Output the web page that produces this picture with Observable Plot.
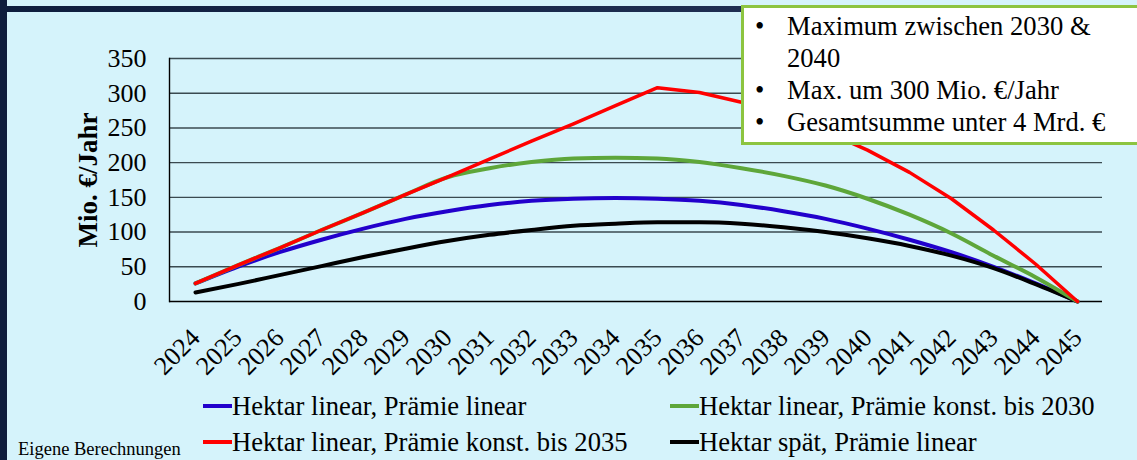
<!DOCTYPE html>
<html><head><meta charset="utf-8">
<script src="https://cdn.jsdelivr.net/npm/d3@7"></script>
<script src="https://cdn.jsdelivr.net/npm/@observablehq/plot@0.6"></script>
<style>
body{margin:0;background:#d5f3fb;}
#page{position:relative;width:1137px;height:460px;background:#d5f3fb;overflow:hidden;font-family:"Liberation Serif","Times New Roman",serif;color:#000;}
#navyL{position:absolute;left:0;top:0;width:7px;height:460px;background:#0e1d3d;}
#navyT{position:absolute;left:0;top:6px;width:1137px;height:6px;background:linear-gradient(90deg,#0e1d3d,#27375c);}
#chart{position:absolute;left:0;top:0;}
.leg{position:absolute;font-size:26.6px;line-height:26px;height:26px;white-space:nowrap;display:flex;align-items:center;}
.sw{display:inline-block;width:29px;height:4px;margin-right:0px;}
#note{position:absolute;left:18px;top:440px;font-size:18.5px;line-height:18.5px;white-space:nowrap;}
#box{position:absolute;left:741px;top:5px;width:430px;height:134px;background:#fff;border:3px solid #8cc440;}
#box .it{position:absolute;left:43px;font-size:26.6px;line-height:32px;white-space:nowrap;}
#box .bu{position:absolute;left:-32px;}
</style></head><body>
<div id="page">
  <div id="navyL"></div><div id="navyT"></div>
  <div id="chart"></div>
  <div id="legend"></div>
  <div id="note">Eigene Berechnungen</div>
  <div id="box"></div>
</div>
<script>
const years = [2024,2025,2026,2027,2028,2029,2030,2031,2032,2033,2034,2035,2036,2037,2038,2039,2040,2041,2042,2043,2044,2045];
const seriesNames = ["Hektar linear, Prämie linear","Hektar linear, Prämie konst. bis 2030","Hektar linear, Prämie konst. bis 2035","Hektar spät, Prämie linear"];
const blueValues  = [26,50,71,89,105,119,130,139,145,148,149,148,145,139,130,119,105,89,71,50,26,0];
const greenValues = [26,52,77,103,128,154,179,192,201,206,207,206,201,192,181,167,148,125,98,66,35,0];
const redValues   = [26,52,77,103,128,154,179,205,231,256,282,308,301,287,268,245,218,186,148,103,54,0];
const blackValues = [13,25,38,51,64,76,87,96,103,109,112,114,114,112,107,100,91,80,66,48,25,0];
const yTicks = [0,50,100,150,200,250,300,350];
const yLabel = "Mio. €/Jahr";
const noteLines = ["Maximum zwischen 2030 &","2040","Max. um 300 Mio. €/Jahr","Gesamtsumme unter 4 Mrd. €"];
const noteBullets = [true,false,true,true];

const seriesValues = [blueValues, greenValues, redValues, blackValues];
const colors = ["#2200cc","#5ea63a","#ff0000","#000000"];
const curves = ["monotone-x","monotone-x","linear","monotone-x"];
const widths = [4,4,3.5,4];
const drawOrder = [0,3,1,2];

const tables = seriesValues.map((vals,i)=>years.map((y,j)=>({year:String(y), value:vals[j], series:seriesNames[i]})));

const marks = [
  Plot.ruleY(yTicks.filter(d=>d>0), {stroke:"#3a4a50", strokeWidth:1.4}),
  Plot.ruleY([0], {stroke:"#000", strokeWidth:1.4}),
  Plot.frame({anchor:"left", stroke:"#000", strokeWidth:1.4}),
  ...drawOrder.map(i=>Plot.line(tables[i], {x:"year", y:"value", stroke:colors[i], strokeWidth:widths[i], curve:curves[i], strokeLinejoin:"round", strokeLinecap:"round"})),
  Plot.axisY({ticks:yTicks, tickSize:0, tickPadding:23, fontSize:26, label:null}),
  Plot.axisX({tickRotate:-45, tickSize:0, tickPadding:32, fontSize:26, label:null}),
  Plot.text([yLabel], {text:d=>d, frameAnchor:"left", textAnchor:"middle", dx:-81, rotate:-90, fontSize:27, fontWeight:"bold"})
];

const chart = Plot.plot({
  width:1137, height:385,
  marginLeft:169, marginRight:35, marginTop:58, marginBottom:84,
  x:{type:"point", domain:years.map(String), padding:0.5},
  y:{domain:[0,350]},
  style:{fontFamily:"'Liberation Serif','Times New Roman',serif", background:"transparent", color:"#000", overflow:"visible"},
  marks
});
document.getElementById("chart").appendChild(chart);

// legend
const legPos = [[203,393],[670,393],[203,429],[670,429]];
const legend = document.getElementById("legend");
seriesNames.forEach((n,i)=>{
  const d = document.createElement("div");
  d.className="leg";
  d.style.left = legPos[i][0]+"px"; d.style.top = legPos[i][1]+"px";
  d.innerHTML = `<span class="sw" style="background:${colors[i]}"></span><span></span>`;
  d.lastChild.textContent = n;
  legend.appendChild(d);
});

// note box
const box = document.getElementById("box");
noteLines.forEach((t,i)=>{
  const d = document.createElement("div");
  d.className="it";
  d.style.top = (2 + i*32)+"px";
  d.textContent = t;
  if (noteBullets[i]) { const b=document.createElement("span"); b.className="bu"; b.textContent="•"; d.appendChild(b); }
  box.appendChild(d);
});
</script>
</body></html>
